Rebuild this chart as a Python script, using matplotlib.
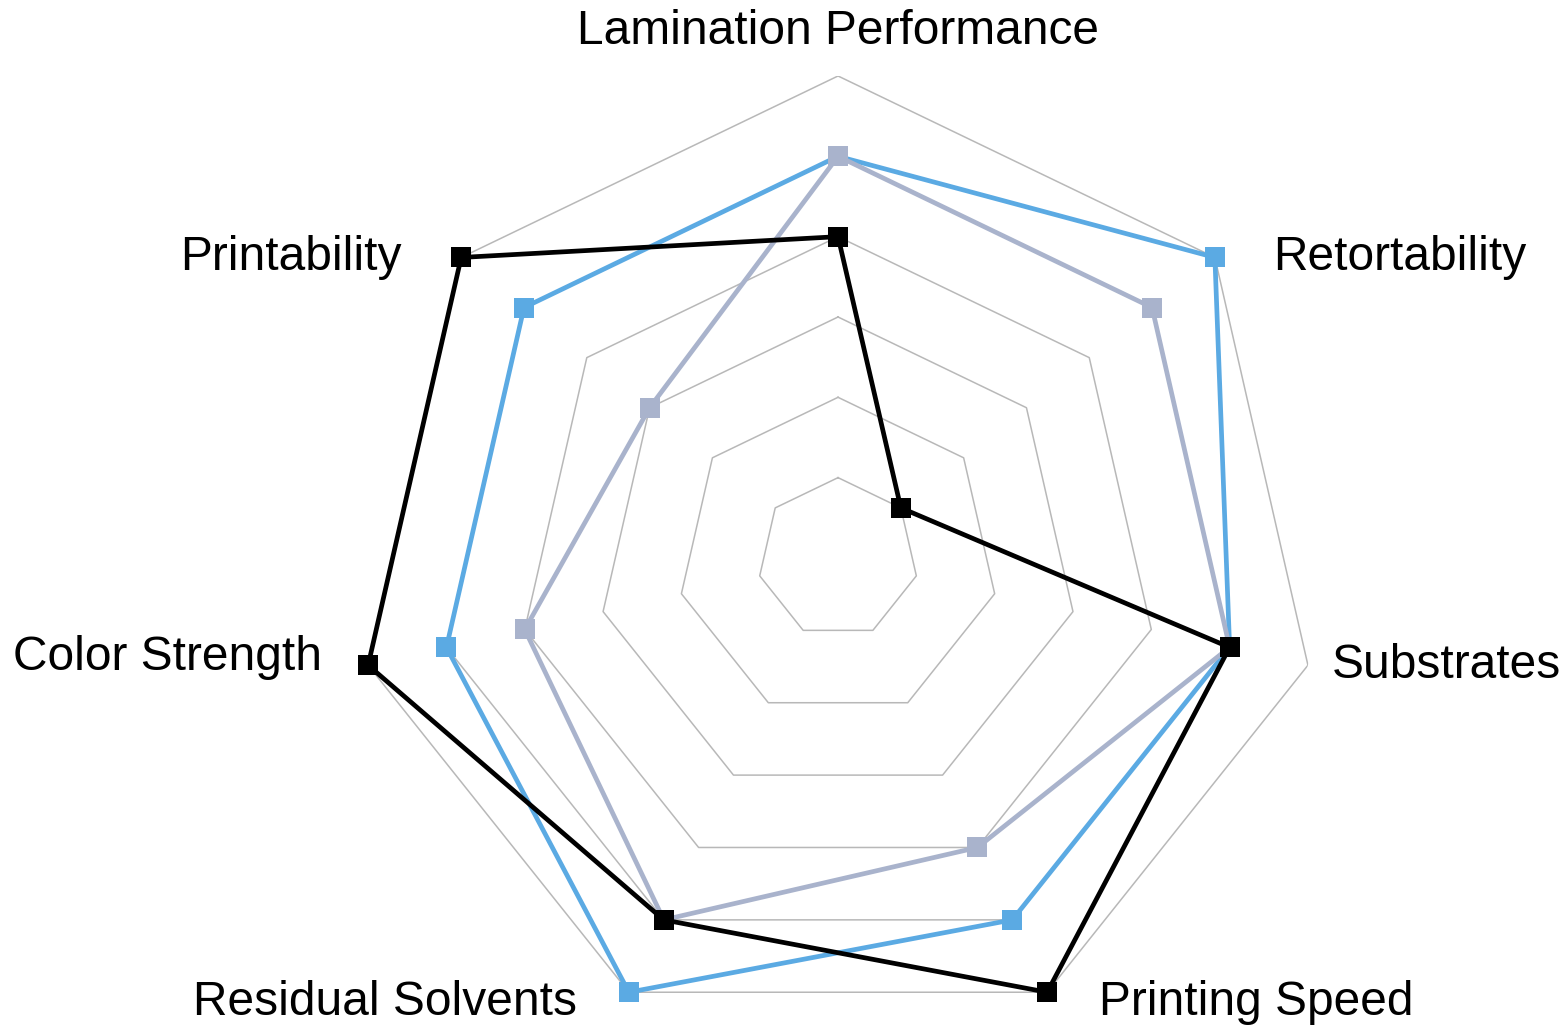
import numpy as np
import matplotlib.pyplot as plt
from matplotlib import transforms

plt.rcParams['font.family'] = ['Liberation Sans', 'DejaVu Sans']

categories = ["Lamination Performance", "Retortability", "Substrates", "Printing Speed",
              "Residual Solvents", "Color Strength", "Printability"]
series_blue = [5, 6, 5, 5, 6, 5, 5]
series_grey = [5, 5, 5, 4, 5, 4, 3]
series_black = [4, 1, 5, 6, 5, 6, 6]
levels = [1, 2, 3, 4, 5, 6]

n = len(categories)
theta = np.linspace(0, 2 * np.pi, n, endpoint=False)
theta_c = np.append(theta, theta[0])

fig = plt.figure(figsize=(15.67, 10.31), dpi=100)
ax = fig.add_axes([0.2272, -0.0087, 0.6152, 0.935], projection='polar')
ax.set_theta_offset(np.pi / 2)
ax.set_theta_direction(-1)
ax.set_ylim(0, 6)
ax.grid(False)
ax.spines['polar'].set_visible(False)
ax.set_xticks([])
ax.set_yticks([])
ax.patch.set_alpha(0)

# polygon grid
for lv in levels:
    ax.plot(theta_c, [lv] * (n + 1), color='#B8B8B8', lw=1.1, zorder=1)

def draw(vals, color, z):
    v = np.append(vals, vals[0])
    ax.plot(theta_c, v, color=color, lw=3.4, marker='s', markersize=14,
            markeredgewidth=0, zorder=z, clip_on=False)

draw(series_blue, '#5BAAE3', 3)
draw(series_grey, '#A9B3CC', 4)
draw(series_black, '#000000', 5)

# category labels: (radius, ha, pixel offset)
label_pos = [
    (6.55, 'center', (0, 0)),
    (6.0, 'left', (58, 0)),
    (6.0, 'left', (24, 0)),
    (6.0, 'left', (52, -10)),
    (6.0, 'right', (-52, -10)),
    (6.0, 'right', (-46, 8)),
    (6.0, 'right', (-60, 0)),
]
for name, t, (r, ha, (dx, dy)) in zip(categories, theta, label_pos):
    tr = ax.transData + transforms.ScaledTranslation(dx / 100, dy / 100, fig.dpi_scale_trans)
    ax.text(t, r, name, ha=ha, va='center', fontsize=34.5, transform=tr, clip_on=False)

fig.savefig('out.png', dpi=100)
